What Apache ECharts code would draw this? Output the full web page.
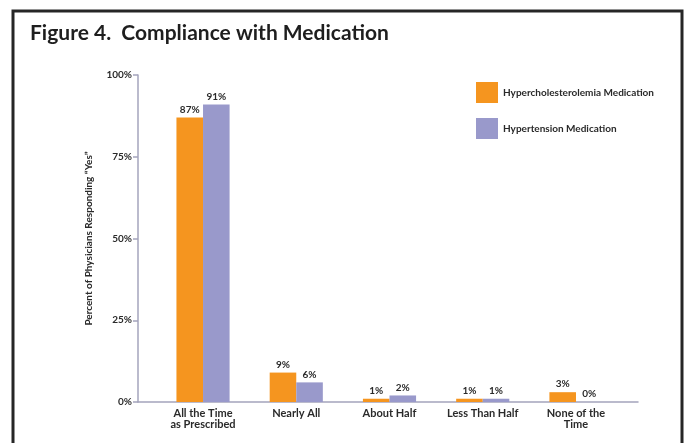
<!DOCTYPE html>
<html><head><meta charset="utf-8">
<script src="https://cdn.jsdelivr.net/npm/echarts@6/dist/echarts.min.js"></script>
<style>
html,body{margin:0;padding:0;background:#fff;}
#c{width:688px;height:443px;}
</style></head>
<body><div id="c"></div>
<script>
const categories = ['All the Time\nas Prescribed', 'Nearly All', 'About Half', 'Less Than Half', 'None of the\nTime'];
const hyperchol = [87, 9, 1, 1, 3];
const hypertens = [91, 6, 2, 1, 0];
const seriesNames = ['Hypercholesterolemia Medication', 'Hypertension Medication'];
const yTicks = [0, 25, 50, 75, 100];

const FONT = 'Lato';
const TXT = '#2a2a2a';
const AX = '#a4a4bc';
const labelStyle = {show: true, position: 'top', formatter: '{c}%', fontFamily: FONT, fontWeight: 'bold', fontSize: 10, color: TXT, distance: 3};

const chart = echarts.init(document.getElementById('c'), null, {renderer: 'canvas'});
chart.setOption({
  backgroundColor: '#fff',
  animation: false,
  title: {
    text: 'Figure 4.  Compliance with Medication',
    left: 25, top: 18,
    textStyle: {fontFamily: FONT, fontWeight: 'bold', fontSize: 21, color: '#1e1e1e'}
  },
  legend: {
    orient: 'vertical', left: 471, top: 77, itemWidth: 22, itemHeight: 21, itemGap: 15,
    icon: 'rect',
    textStyle: {fontFamily: FONT, fontWeight: 'bold', fontSize: 10, color: TXT, padding: [0,0,0,0]},
    data: seriesNames
  },
  graphic: [{
    type: 'polyline', silent: true,
    shape: {points: [[13, 450], [13, 11], [682, 11], [682, 450]]},
    style: {stroke: '#262626', lineWidth: 3, fill: null}
  }],
  grid: [
    {left: 156.4, right: 65.4, top: 75, bottom: 41},
    {left: 138, right: 50, top: 75, bottom: 41}
  ],
  xAxis: [{
    type: 'category', data: categories, gridIndex: 0,
    axisLine: {show: false}, axisTick: {show: false},
    axisLabel: {fontFamily: FONT, fontWeight: 'bold', fontSize: 11, color: TXT, lineHeight: 11, margin: 6, interval: 0}
  }, {
    type: 'value', gridIndex: 1, min: 0, max: 1,
    axisLine: {show: true, lineStyle: {color: AX, width: 1.5}},
    axisTick: {show: false}, axisLabel: {show: false}, splitLine: {show: false}
  }],
  yAxis: [{
    type: 'value', gridIndex: 0, min: 0, max: 100, interval: 25, offset: 18.4,
    name: 'Percent of Physicians Responding \u201cYes\u201d', nameLocation: 'middle', nameGap: 44, nameRotate: 90,
    nameTextStyle: {fontFamily: FONT, fontWeight: 'bold', fontSize: 10, color: TXT},
    axisLine: {show: true, lineStyle: {color: AX, width: 1.5}},
    axisTick: {show: true, length: 5, lineStyle: {color: AX, width: 1.5}},
    axisLabel: {formatter: v => yTicks.includes(v) ? v + '%' : '', fontFamily: FONT, fontWeight: 'bold', fontSize: 10, color: TXT, margin: 6},
    splitLine: {show: false}
  }, {
    type: 'value', gridIndex: 1, show: false, min: 0, max: 1
  }],
  series: [{
    name: seriesNames[0], type: 'bar', data: hyperchol, xAxisIndex: 0, yAxisIndex: 0,
    itemStyle: {color: '#F5951F'}, barGap: '0%', barCategoryGap: '43%', label: labelStyle
  }, {
    name: seriesNames[1], type: 'bar', data: hypertens, xAxisIndex: 0, yAxisIndex: 0,
    itemStyle: {color: '#9999CB'}, barGap: '0%', barCategoryGap: '43%', label: labelStyle
  }]
});
</script></body></html>
